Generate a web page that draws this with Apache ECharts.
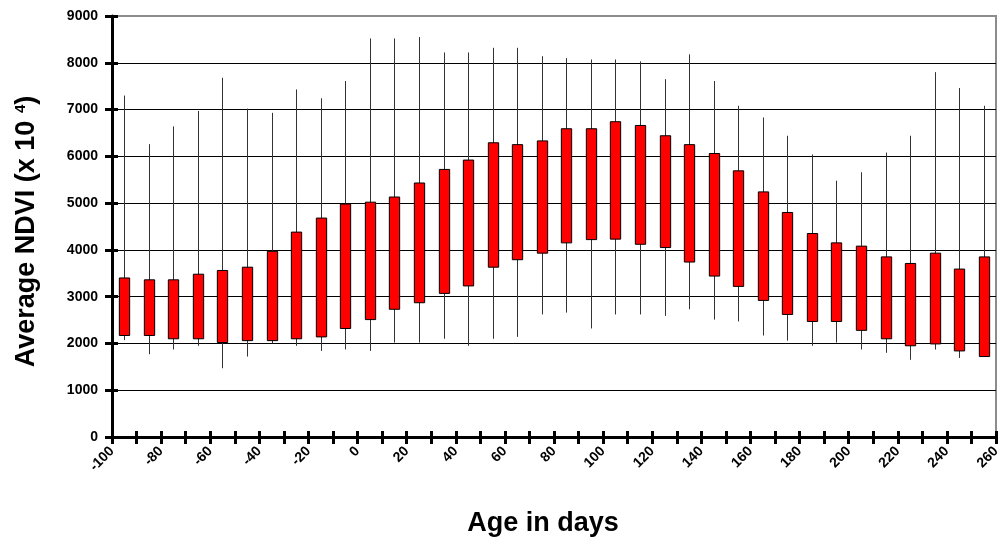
<!DOCTYPE html>
<html>
<head>
<meta charset="utf-8">
<script src="https://cdn.jsdelivr.net/npm/echarts@6/dist/echarts.min.js"></script>
<style>html,body{margin:0;padding:0;background:#fff}#c{width:1005px;height:542px}</style>
</head>
<body>
<div id="c"></div>
<script>
const days = [-95,-85,-75,-65,-55,-45,-35,-25,-15,-5,5,15,25,35,45,55,65,75,85,95,105,115,125,135,145,155,165,175,185,195,205,215,225,235,245,255];
const boxTop = [3400,3360,3360,3480,3560,3630,3970,4380,4680,4980,5020,5130,5430,5720,5920,6290,6250,6330,6590,6590,6740,6660,6440,6250,6060,5690,5240,4800,4350,4150,4080,3850,3710,3930,3590,3850];
const boxBottom = [2170,2170,2100,2100,2020,2060,2060,2100,2140,2320,2510,2730,2870,3070,3230,3630,3790,3930,4150,4220,4230,4120,4050,3740,3440,3220,2920,2620,2470,2470,2280,2100,1950,1990,1840,1720];
const whiskerHigh = [7300,6260,6640,6970,7680,7020,6930,7430,7240,7610,8520,8520,8550,8220,8220,8320,8320,8140,8100,8070,8070,8030,7650,8180,7610,7080,6830,6440,6040,5480,5660,6080,6440,7800,7460,7080];
const whiskerLow = [2070,1770,1870,1950,1470,1720,2000,1950,1840,1870,1840,2020,2020,2100,1950,2100,2140,2620,2660,2320,2620,2620,2590,2730,2510,2470,2170,2060,1950,2020,1870,1800,1650,1870,1690,1720];

const data = days.map((d, i) => [d, whiskerLow[i], boxBottom[i], boxTop[i], whiskerHigh[i]]);

const chart = echarts.init(document.getElementById('c'), null, {renderer: 'canvas'});
const labelFont = {fontFamily: 'Liberation Sans, Arial, sans-serif', fontWeight: 'bold', fontSize: 14, color: '#000'};

chart.setOption({
  animation: false,
  backgroundColor: '#fff',
  grid: {left: 112, right: 9, top: 16, bottom: 105, show: true, borderColor: '#8c8c8c', borderWidth: 2, backgroundColor: 'transparent'},
  xAxis: [{
    type: 'value', min: -100, max: 260, interval: 10, position: 'bottom',
    axisLine: {show: true, onZero: false, lineStyle: {color: '#000', width: 3}},
    axisTick: {show: true, inside: false, length: 7, lineStyle: {color: '#000', width: 3}},
    axisLabel: Object.assign({rotate: 45, margin: 12, formatter: v => (v % 20 === 0 ? String(v) : '')}, labelFont),
    splitLine: {show: false},
    name: 'Age in days', nameLocation: 'middle', nameGap: 73,
    nameTextStyle: {fontFamily: 'Liberation Sans, Arial, sans-serif', fontWeight: 'bold', fontSize: 27, color: '#000', padding: [0, 22, 0, 0]}
  }, {
    type: 'value', min: -100, max: 260, interval: 10, position: 'bottom', offset: 0,
    axisLine: {show: false, onZero: false}, axisLabel: {show: false}, splitLine: {show: false},
    axisTick: {show: true, inside: true, length: 6, lineStyle: {color: '#000', width: 3}}
  }],
  yAxis: [{
    type: 'value', min: 0, max: 9000, interval: 1000, position: 'left',
    axisLine: {show: true, onZero: false, lineStyle: {color: '#000', width: 3}},
    axisTick: {show: true, inside: false, length: 7, lineStyle: {color: '#000', width: 3}},
    axisLabel: Object.assign({margin: 14, formatter: v => String(v)}, labelFont),
    splitLine: {show: true, showMaxLine: false, lineStyle: {color: '#000', width: 1}},
    name: '{a|Average NDVI (x 10 }{s|4}{a|)}', nameLocation: 'middle', nameGap: 72,
    nameTextStyle: {
      padding: [0, 10, 0, 0],
      rich: {
        a: {fontFamily: 'Liberation Sans, Arial, sans-serif', fontWeight: 'bold', fontSize: 27, color: '#000'},
        s: {fontFamily: 'Liberation Sans, Arial, sans-serif', fontWeight: 'bold', fontSize: 15, color: '#000', verticalAlign: 'top', padding: [0, 0, 10, 0]}
      }
    }
  }, {
    type: 'value', min: 0, max: 9000, interval: 1000, position: 'left', offset: 0,
    axisLine: {show: false, onZero: false}, axisLabel: {show: false}, splitLine: {show: false},
    axisTick: {show: true, inside: true, length: 6, lineStyle: {color: '#000', width: 3}}
  }],
  series: [{
    type: 'custom',
    xAxisIndex: 0, yAxisIndex: 0,
    data: data,
    encode: {x: 0, y: [1, 2, 3, 4]},
    renderItem: function (params, api) {
      const x = api.value(0);
      const pLow = api.coord([x, api.value(1)]);
      const pBot = api.coord([x, api.value(2)]);
      const pTop = api.coord([x, api.value(3)]);
      const pHigh = api.coord([x, api.value(4)]);
      const w = api.size([4.2, 0])[0];
      const cx = Math.round(pLow[0]) + 0.5;
      return {
        type: 'group',
        children: [{
          type: 'line',
          shape: {x1: cx, y1: pHigh[1], x2: cx, y2: pLow[1]},
          style: {stroke: '#333', lineWidth: 1}
        }, {
          type: 'rect',
          shape: {x: cx - w / 2, y: pTop[1], width: w, height: pBot[1] - pTop[1]},
          style: {fill: '#ff0000', stroke: '#000', lineWidth: 1}
        }]
      };
    }
  }]
});
</script>
</body>
</html>
